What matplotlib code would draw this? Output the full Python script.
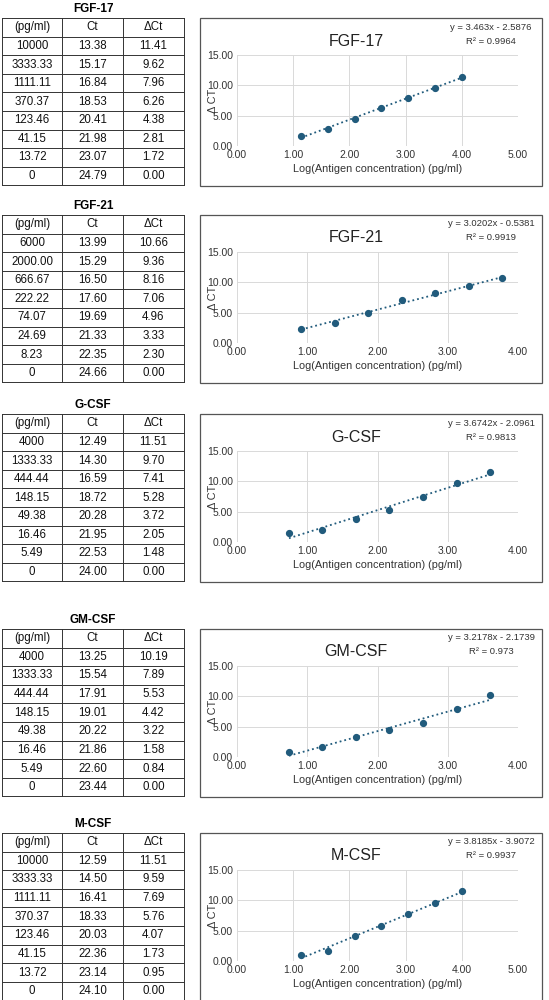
import numpy as np
import matplotlib
matplotlib.use("Agg")
import matplotlib.pyplot as plt
from matplotlib.lines import Line2D
from matplotlib.patches import Rectangle

plt.rcParams['font.family'] = ['Liberation Sans', 'DejaVu Sans']

names = ["FGF-17", "FGF-21", "G-CSF", "GM-CSF", "M-CSF"]
conc_labels = [
    ["10000", "3333.33", "1111.11", "370.37", "123.46", "41.15", "13.72", "0"],
    ["6000", "2000.00", "666.67", "222.22", "74.07", "24.69", "8.23", "0"],
    ["4000", "1333.33", "444.44", "148.15", "49.38", "16.46", "5.49", "0"],
    ["4000", "1333.33", "444.44", "148.15", "49.38", "16.46", "5.49", "0"],
    ["10000", "3333.33", "1111.11", "370.37", "123.46", "41.15", "13.72", "0"],
]
ct = [
    [13.38, 15.17, 16.84, 18.53, 20.41, 21.98, 23.07, 24.79],
    [13.99, 15.29, 16.50, 17.60, 19.69, 21.33, 22.35, 24.66],
    [12.49, 14.30, 16.59, 18.72, 20.28, 21.95, 22.53, 24.00],
    [13.25, 15.54, 17.91, 19.01, 20.22, 21.86, 22.60, 23.44],
    [12.59, 14.50, 16.41, 18.33, 20.03, 22.36, 23.14, 24.10],
]
dct = [
    [11.41, 9.62, 7.96, 6.26, 4.38, 2.81, 1.72, 0.00],
    [10.66, 9.36, 8.16, 7.06, 4.96, 3.33, 2.30, 0.00],
    [11.51, 9.70, 7.41, 5.28, 3.72, 2.05, 1.48, 0.00],
    [10.19, 7.89, 5.53, 4.42, 3.22, 1.58, 0.84, 0.00],
    [11.51, 9.59, 7.69, 5.76, 4.07, 1.73, 0.95, 0.00],
]
slopes = [3.463, 3.0202, 3.6742, 3.2178, 3.8185]
intercepts = [-2.5876, -0.5381, -2.0961, -2.1739, -3.9072]
r2_labels = ["0.9964", "0.9919", "0.9813", "0.973", "0.9937"]
xmax = [5, 4, 4, 4, 5]
xlabels = ["Log(Antigen concentration) (pg/ml)"] * 5
header = ["(pg/ml)", "Ct", "\u0394Ct"]

W, H = 549, 1000
fig = plt.figure(figsize=(5.49, 10), dpi=100)
C = "#215b7c"

def fx(px): return px / W
def fy(py): return 1 - py / H

tops = [18, 215, 414, 629, 833]
row_h = 18.6
col_x = [2, 62, 123, 184]

for i, name in enumerate(names):
    t = tops[i]
    fig.text(fx(93), fy(t - 9), name, ha='center', va='center', fontsize=8.5, fontweight='bold')
    nrows = 9
    bottom = t + nrows * row_h
    for r in range(nrows + 1):
        y = t + r * row_h
        fig.add_artist(Line2D([fx(col_x[0]), fx(col_x[-1])], [fy(y), fy(y)], color='#333333', lw=0.7))
    for cx in col_x:
        fig.add_artist(Line2D([fx(cx), fx(cx)], [fy(t), fy(bottom)], color='#333333', lw=0.7))
    rows = [header] + [[conc_labels[i][k], f"{ct[i][k]:.2f}", f"{dct[i][k]:.2f}"] for k in range(8)]
    for r, row in enumerate(rows):
        yc = t + (r + 0.5) * row_h
        for c, txt in enumerate(row):
            xc = (col_x[c] + col_x[c + 1]) / 2
            fig.text(fx(xc), fy(yc), txt, ha='center', va='center', fontsize=8.3, color='#111111')

    bt = t
    fig.add_artist(Rectangle((fx(200), fy(bt + 168)), fx(342), 168 / H, fill=False,
                             edgecolor='#555555', lw=0.9, transform=fig.transFigure))
    ax = fig.add_axes([fx(237), fy(bt + 128), fx(281), 91 / H])
    x = np.log10(np.array([float(s) for s in conc_labels[i][:7]]))
    y = np.array(dct[i][:7])
    xs = np.array([x.min(), x.max()])
    ax.plot(xs, slopes[i] * xs + intercepts[i], ':', color=C, lw=1.3)
    ax.plot(x, y, 'o', color=C, ms=4.2)
    ax.set_xlim(0, xmax[i])
    ax.set_ylim(0, 15)
    ax.set_xticks(np.arange(0, xmax[i] + 0.01, 1))
    ax.set_yticks([0, 5, 10, 15])
    ax.set_xticklabels([f"{v:.2f}" for v in ax.get_xticks()])
    ax.set_yticklabels([f"{v:.2f}" for v in ax.get_yticks()])
    ax.grid(True, color='#d9d9d9', lw=0.7)
    ax.set_axisbelow(True)
    for s in ax.spines.values():
        s.set_visible(False)
    ax.tick_params(length=0, labelsize=7.5, colors='#333333', pad=3)
    ax.set_xlabel(xlabels[i], fontsize=7.8, color='#333333', labelpad=3)
    ax.set_ylabel("\u0394 CT", fontsize=7.8, color='#333333', labelpad=-8)
    fig.text(fx(356), fy(bt + 23), name, ha='center', va='center', fontsize=11.5, color='#222222')
    fig.text(fx(491), fy(bt + 9), f"y = {slopes[i]}x - {abs(intercepts[i])}", ha='center',
             va='center', fontsize=6.8, color='#333333')
    fig.text(fx(491), fy(bt + 23), f"R\u00b2 = {r2_labels[i]}", ha='center', va='center',
             fontsize=6.8, color='#333333')

fig.savefig("out.png", dpi=100, facecolor='white')
